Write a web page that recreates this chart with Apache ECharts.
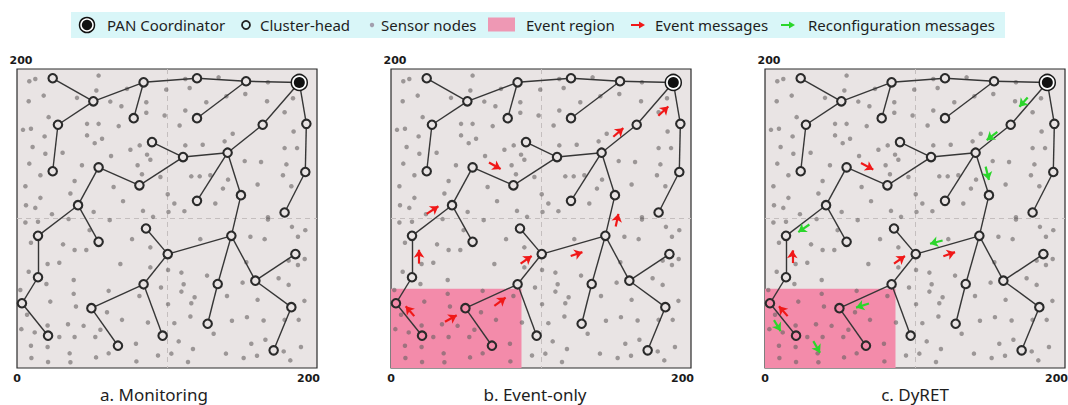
<!DOCTYPE html>
<html>
<head>
<meta charset="utf-8">
<title>DyRET</title>
<script src="https://cdn.jsdelivr.net/npm/echarts@6/dist/echarts.min.js"></script>
<style>
  html, body { margin: 0; padding: 0; background: #fff; }
  #chart { width: 1068px; height: 405px; }
</style>
</head>
<body>
<div id="chart"></div>
<script>
// panel captions and axis labels
const panelTitles = ['a. Monitoring', 'b. Event-only', 'c. DyRET'];
const xTickLabels = [0, 200];
const yTickLabel = '200';

// node 0 is the PAN coordinator, the rest are cluster heads
const nodes = [
  [188.2, 191],
  [23.8, 193.8], [50.9, 178.4], [84.4, 191.1], [120, 193.8], [152.7, 191.8],
  [77.8, 167.1], [120, 167.1], [27.3, 162.7], [163.8, 162.7], [192.9, 163.3],
  [90, 151.1], [110.7, 141.1], [140.4, 144], [23.8, 131.6], [54.4, 134.2],
  [81.6, 122.2], [192.2, 131.1], [149.3, 115.6], [120, 111.8], [178.4, 104],
  [40.7, 108.9], [14, 88.4], [54.4, 84.4], [86, 93.3], [100.5, 76.2],
  [142.9, 88.4], [185.6, 76.2], [14, 60.7], [84.4, 56], [133.8, 56.2],
  [158.9, 58.4], [3.3, 43.3], [49.6, 40], [182.9, 40.7], [127.1, 29.6],
  [20.7, 21.6], [67.3, 14.9], [97.1, 21.6], [171.1, 11.8]
];

// routing tree (node indices)
const links = [
  [0, 5], [5, 4], [4, 3], [3, 2], [2, 1], [3, 6], [2, 8], [8, 14], [5, 7],
  [0, 9], [9, 13], [13, 12], [12, 11], [12, 16], [16, 15], [15, 21], [21, 22],
  [21, 23], [22, 28], [28, 32], [32, 36], [13, 19], [13, 18], [18, 26],
  [26, 25], [25, 24], [25, 29], [29, 33], [33, 37], [29, 38], [26, 30],
  [30, 35], [26, 31], [31, 27], [31, 34], [34, 39], [0, 10], [10, 17], [17, 20]
];

// sensor nodes
const sensorNodes = [
  [8.2, 191.8], [12.2, 193.3], [54.4, 195.6], [17.8, 182.2], [7.8, 178.4],
  [40, 180.7], [52.9, 185.6], [73.3, 186.7], [62.2, 178.2], [69.6, 175.1],
  [86.2, 177.8], [86.2, 170.7], [21.1, 167.8], [46.7, 163.3], [54.4, 163.3],
  [4, 159.3], [9.3, 160], [67.8, 161.8], [98.4, 168.9], [18.4, 154.9],
  [46.7, 155.6], [56.7, 153.3], [51.8, 150.4], [10.4, 147.8], [18.9, 143.3],
  [30.4, 144], [75.6, 146], [81.8, 148.9], [86.7, 142.7], [88.9, 139.3],
  [62.7, 141.8], [8.2, 136.7], [15.6, 128.9], [43.3, 135.6], [80.4, 135.6],
  [83.3, 129.6], [95.6, 127.8], [38.4, 125.1], [5.6, 121.6], [64.4, 121.1],
  [35.6, 116.7], [15.6, 113.8], [70.7, 111.6], [6, 108.9], [12.2, 107.1],
  [51.1, 104.4], [84, 105.1], [23.3, 102.9], [90.7, 101.1], [99.5, 186.2],
  [100.5, 116.2], [101, 104.4],
  [112.2, 193.3], [134.4, 194.4], [115.1, 187.3], [167.3, 191.1], [152.2, 183.3],
  [166.7, 178.4], [184, 180.4], [126.2, 177.8], [139.6, 181.8], [112.2, 172.2],
  [178.4, 171.1], [108.4, 162.2], [143.8, 156.7], [184.4, 158.2], [138.4, 151.6],
  [123.8, 149.3], [112.2, 148.9], [178.4, 147.1], [186.7, 147.1], [151.8, 138.4],
  [162.7, 137.8], [179.6, 136.2], [116.2, 128.2], [121.8, 128.2], [128.9, 128.9],
  [140.7, 126], [177.3, 128.9], [160.4, 122.7], [137.3, 120], [182.9, 121.6],
  [104.9, 110], [132.2, 110], [111.6, 104.9], [167.3, 100.9],
  [5.6, 97.3], [14, 97.8], [34.4, 99.6], [61.8, 98.9], [48.4, 92.2],
  [9.3, 83.8], [30.7, 82.7], [38.4, 78.9], [46.2, 78.9], [76.7, 86.2],
  [88.9, 80.7], [20.4, 69.6], [28.2, 70.4], [68.9, 69.6], [88.9, 67.3],
  [7.8, 64.4], [37.8, 58.9], [19.6, 56.2], [2.2, 52.2], [37.8, 49.6],
  [61.1, 51.6], [81.6, 48.2], [96, 53.8], [22.2, 44.4], [39.3, 41.1],
  [6.7, 35.6], [60, 37.3], [70, 32.2], [2.9, 26], [11.8, 23.8],
  [20.4, 28.4], [34, 29.3], [44.4, 28.2], [87.3, 30.4], [28.2, 20.7],
  [38.4, 20.7], [52.2, 20.7], [55.6, 25.6], [9.3, 14.9], [20.4, 14],
  [79.3, 16.2], [9.6, 6.7], [20.7, 4], [35.1, 9.8], [35.6, 3.8],
  [52.7, 7.1], [61.1, 9.8], [79.6, 4.4], [94, 8.4],
  [167.3, 99.3], [183.3, 94.4], [192.2, 92.2], [122.2, 86.2], [155.6, 87.8],
  [165.1, 86.2], [187.3, 87.8], [181.1, 71.8], [191.8, 72.9], [187.3, 68.9],
  [152.9, 70.7], [100.7, 65.6], [109.6, 63.8], [126.7, 61.8], [174.4, 60],
  [181.1, 55.6], [150.4, 57.1], [111.1, 56], [109.6, 51.1], [118.4, 47.3],
  [116.2, 43.3], [140, 48.2], [160.4, 45.6], [191.6, 44.9], [100.7, 42.7],
  [115.6, 34.4], [104.9, 30], [143.3, 31.6], [153.3, 34], [164.4, 31.8],
  [178.4, 32.2], [187.8, 32.2], [131.1, 22.9], [107.8, 17.8], [156.2, 16.2],
  [165.6, 18.9], [117.3, 12.7], [102.9, 9.6], [139.3, 9.6], [151.1, 6.7],
  [160, 8.2], [177.8, 11.1], [189.3, 14], [114, 4], [182.2, 5.1]
];

// event region: [xMin, yMin, xMax, yMax]
const eventRegion = [0, 0, 87, 53];

// arrows: [x1, y1, x2, y2]
const eventMsgB = [
  [178.2, 168.7, 184.9, 174.9], [148.2, 154.7, 154.9, 160.4], [65.3, 137.5, 73.1, 133.1],
  [23.8, 103.1, 31.6, 108.2], [149.8, 94.7, 151.6, 103.1], [18.7, 69.8, 18.7, 79.1],
  [86.4, 69.8, 93.8, 74.9], [119.8, 74.9, 127.6, 77.5], [68.9, 41.5, 76.4, 47.1],
  [36, 30.9, 43.8, 35.3], [15.5, 34.7, 9.8, 41.3]
];
const eventMsgC = [
  [64, 137.1, 72.2, 132.7], [18.2, 70.2, 18.2, 78.7], [86, 69.8, 93.3, 74.9],
  [118.9, 74.7, 126.7, 77.5], [15.1, 34.7, 9.3, 41.3]
];
const reconfMsgC = [
  [175.1, 180.9, 169.6, 174.7], [154.9, 158, 147.8, 152.4], [147.1, 134.7, 149.3, 125.8],
  [29.6, 96, 22.2, 90.9], [118.4, 85.3, 110, 83.1], [69.3, 43.1, 60.7, 40.4],
  [6, 32, 10.4, 24.7], [32.2, 18, 36.7, 10.2]
];

const FONT = '"Noto Sans", "DejaVu Sans", sans-serif';
const PINK = '#F38BAA';
const BG = '#E9E4E4';
const RED = '#F01818';
const GREEN = '#2BD62B';

const panelLeft = [17, 391, 765];
const panels = [
  { event: false, red: [], green: [] },
  { event: true, red: eventMsgB, green: [] },
  { event: true, red: eventMsgC, green: reconfMsgC }
];

function inEvent(p) {
  return p[0] >= eventRegion[0] && p[0] <= eventRegion[2] && p[1] >= eventRegion[1] && p[1] <= eventRegion[3];
}

function arrowSeries(i, list, color) {
  return {
    type: 'lines', coordinateSystem: 'cartesian2d', xAxisIndex: i, yAxisIndex: i,
    silent: true, z: 8,
    symbol: ['none', 'arrow'], symbolSize: 8,
    lineStyle: { color: color, width: 2.2, opacity: 1 },
    data: list.map(a => ({ coords: [[a[0], a[1]], [a[2], a[3]]] }))
  };
}

const series = [];
panels.forEach((p, i) => {
  if (p.event) {
    series.push({
      type: 'scatter', xAxisIndex: i, yAxisIndex: i, data: [], z: 1, silent: true,
      markArea: {
        silent: true,
        itemStyle: { color: PINK, opacity: 1 },
        data: [[{ coord: [eventRegion[0], eventRegion[1]] }, { coord: [eventRegion[2], eventRegion[3]] }]]
      }
    });
  }
  series.push({
    type: 'scatter', xAxisIndex: i, yAxisIndex: i, silent: true, z: 3,
    symbolSize: 4.5,
    itemStyle: { color: '#676262', opacity: 0.6 },
    data: sensorNodes
  });
  series.push({
    type: 'lines', coordinateSystem: 'cartesian2d', xAxisIndex: i, yAxisIndex: i,
    silent: true, z: 4,
    lineStyle: { color: '#363636', width: 1.4, opacity: 1 },
    data: links.map(l => ({ coords: [nodes[l[0]], nodes[l[1]]] }))
  });
  series.push({
    type: 'scatter', xAxisIndex: i, yAxisIndex: i, silent: true, z: 5,
    symbolSize: 8.5,
    itemStyle: { borderColor: '#2a2a2a', borderWidth: 2.1, opacity: 1 },
    data: nodes.slice(1).map(n => ({
      value: n,
      itemStyle: { color: p.event && inEvent(n) ? PINK : BG }
    }))
  });
  series.push({
    type: 'scatter', xAxisIndex: i, yAxisIndex: i, silent: true, z: 6,
    symbolSize: 16,
    itemStyle: { color: '#fff', borderColor: '#1a1a1a', borderWidth: 1.5, opacity: 1 },
    data: [nodes[0]]
  });
  series.push({
    type: 'scatter', xAxisIndex: i, yAxisIndex: i, silent: true, z: 7,
    symbolSize: 11,
    itemStyle: { color: '#111', opacity: 1 },
    data: [nodes[0]]
  });
  if (p.red.length) series.push(arrowSeries(i, p.red, RED));
  if (p.green.length) series.push(arrowSeries(i, p.green, GREEN));
});

const tickStyle = { fontFamily: 'DejaVu Sans', fontWeight: 'bold', fontSize: 11, color: '#1a1a1a' };

function legendArrow(x, color) {
  return [
    { type: 'line', shape: { x1: x, y1: 25, x2: x + 9, y2: 25 }, style: { stroke: color, lineWidth: 2 } },
    { type: 'polygon', shape: { points: [[x + 8, 21.5], [x + 14, 25], [x + 8, 28.5]] }, style: { fill: color } }
  ];
}

const legendText = [
  ['PAN Coordinator', 107], ['Cluster-head', 260], ['Sensor nodes', 381],
  ['Event region', 526], ['Event messages', 655], ['Reconfiguration messages', 808]
];

const graphic = [
  { type: 'rect', shape: { x: 71, y: 12, width: 934, height: 26 }, style: { fill: '#D9F6F8' }, z: 0 },
  { type: 'circle', shape: { cx: 87, cy: 25, r: 7.5 }, style: { fill: '#fff', stroke: '#111', lineWidth: 1.5 } },
  { type: 'circle', shape: { cx: 87, cy: 25, r: 5.2 }, style: { fill: '#111' } },
  { type: 'circle', shape: { cx: 246, cy: 25, r: 4 }, style: { fill: 'none', stroke: '#222', lineWidth: 1.8 } },
  { type: 'circle', shape: { cx: 372, cy: 25, r: 2.2 }, style: { fill: '#a29fae' } },
  { type: 'rect', shape: { x: 488, y: 17.5, width: 27, height: 14 }, style: { fill: '#EE98B4' } }
]
  .concat(legendArrow(631, RED))
  .concat(legendArrow(781, GREEN))
  .concat(legendText.map(t => ({
    type: 'text', x: t[1], y: 25,
    style: { text: t[0], fill: '#1e1e1e', font: '15px ' + FONT, verticalAlign: 'middle', align: 'left' }
  })))
  .concat(panelTitles.map((t, i) => ({
    type: 'text', x: [154, 535, 915][i], y: 394,
    style: { text: t, fill: '#1e1e1e', font: '17px ' + FONT, verticalAlign: 'middle', align: 'center' }
  })));

const option = {
  animation: false,
  backgroundColor: '#fff',
  graphic: graphic,
  grid: panelLeft.map(l => ({
    left: l, top: 69, width: 300, height: 299, show: true,
    outerBoundsMode: 'none',
    backgroundColor: BG, borderColor: '#2b2b2b', borderWidth: 1.2
  })),
  xAxis: panelLeft.map((l, i) => ({
    type: 'value', gridIndex: i, min: 0, max: 200, interval: 100,
    axisLine: { show: false }, axisTick: { show: false },
    axisLabel: Object.assign({
      margin: 5,
      formatter: v => (xTickLabels.indexOf(v) < 0 ? '' : (v === 200 ? '{r|' + v + '}' : String(v))),
      rich: { r: Object.assign({ padding: [0, 17, 0, 0] }, tickStyle) }
    }, tickStyle),
    splitLine: { show: true, showMinLine: false, showMaxLine: false, lineStyle: { color: '#c4bebe', type: [5, 4], width: 1 } }
  })),
  yAxis: panelLeft.map((l, i) => ({
    type: 'value', gridIndex: i, min: 0, max: 200, interval: 100,
    name: yTickLabel, nameLocation: 'end', nameGap: 3,
    nameTextStyle: Object.assign({ padding: [0, 0, 0, 8] }, tickStyle),
    axisLine: { show: false }, axisTick: { show: false }, axisLabel: { show: false },
    splitLine: { show: true, showMinLine: false, showMaxLine: false, lineStyle: { color: '#c4bebe', type: [5, 4], width: 1 } }
  })),
  series: series
};

const myChart = echarts.init(document.getElementById('chart'), null, { renderer: 'svg' });
myChart.setOption(option);
window.onresize = function () {
  myChart.resize();
};
</script>
</body>
</html>
